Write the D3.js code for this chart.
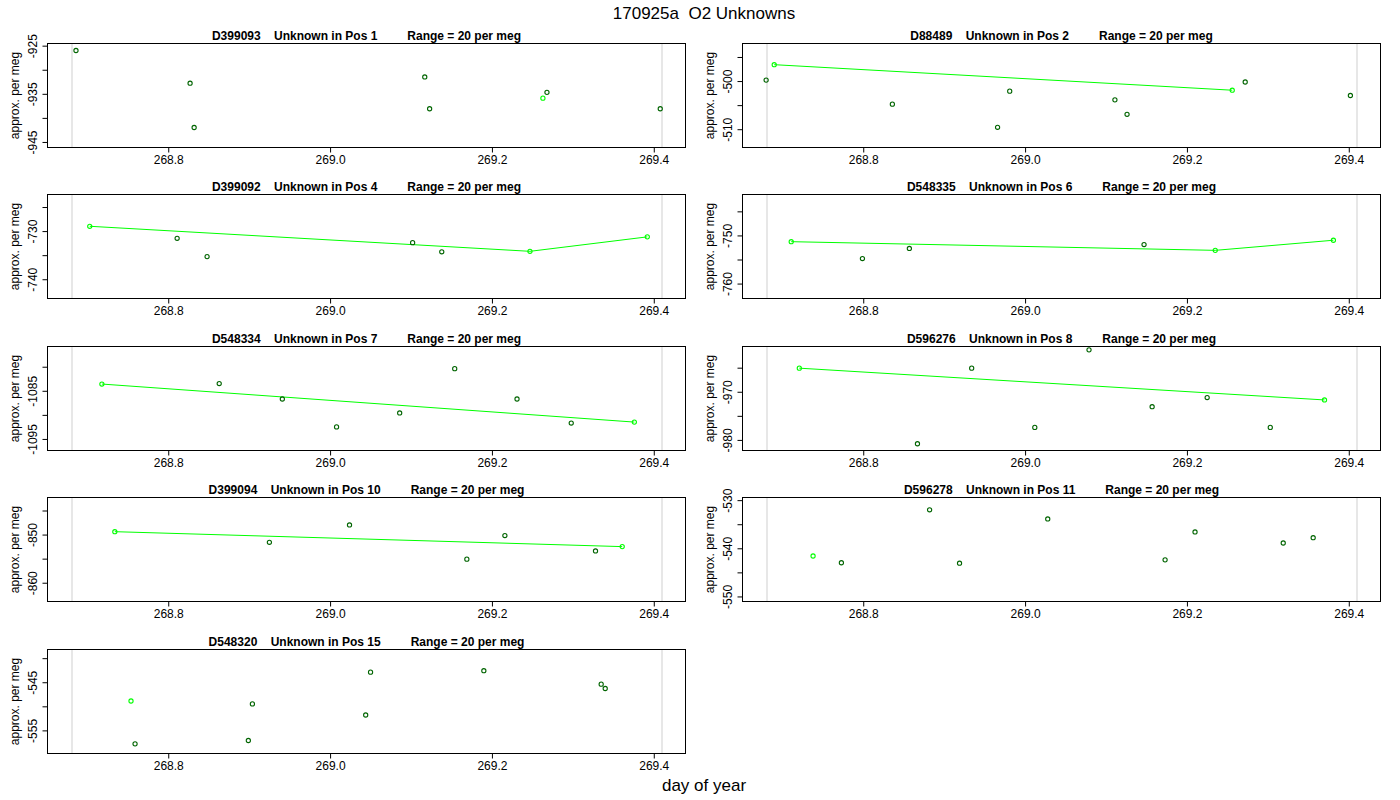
<!DOCTYPE html>
<html>
<head>
<meta charset="utf-8">
<title>170925a O2 Unknowns</title>
<script src="https://cdn.jsdelivr.net/npm/d3@7"></script>
<style>
body { margin: 0; background: #fff; }
text { font-family: "Liberation Sans", Arial, Helvetica, sans-serif; }
</style>
</head>
<body>
<div id="chart"></div>
<script>

// ---- data ----
const sampleIds = ["D399093", "D88489", "D399092", "D548335", "D548334", "D596276", "D399094", "D596278", "D548320"];
const samplePos = [1, 2, 4, 6, 7, 8, 10, 11, 15];
const plotRange = 20;   // per meg, shown in each title
const yMid = [-935.35, -503.0, -733.2, -752.3, -1086.6, -971.4, -853.1, -540.25, -549.0];
const refDays = [268.68, 269.41];   // grey run limits
const xTicks = [268.8, 269.0, 269.2, 269.4];

// day of year for every aliquot
const panelDays = [
    [268.686, 268.827, 268.832, 269.117, 269.123, 269.263, 269.268, 269.408],
    [268.680, 268.690, 268.836, 268.966, 268.981, 269.111, 269.126, 269.256, 269.272, 269.402],
    [268.703, 268.811, 268.848, 269.102, 269.138, 269.247, 269.392],
    [268.711, 268.799, 268.857, 269.147, 269.235, 269.381],
    [268.718, 268.863, 268.941, 269.008, 269.086, 269.154, 269.231, 269.298, 269.376],
    [268.721, 268.867, 268.934, 269.012, 269.079, 269.157, 269.225, 269.303, 269.370],
    [268.734, 268.925, 269.024, 269.169, 269.216, 269.328, 269.361],
    [268.738, 268.773, 268.882, 268.919, 269.028, 269.173, 269.210, 269.319, 269.356],
    [268.754, 268.759, 268.899, 268.904, 269.044, 269.050, 269.190, 269.335, 269.340]
];

// approx. per meg
const panelValues = [
    [-926.0, -932.8, -942.0, -931.5, -938.1, -935.9, -934.7, -938.1],
    [-499.8, -496.6, -504.8, -509.6, -502.1, -503.9, -506.9, -501.9, -500.2, -503.0],
    [-729.0, -731.5, -735.3, -732.4, -734.3, -734.2, -731.2],
    [-751.3, -754.8, -752.7, -751.9, -753.1, -751.0],
    [-1083.6, -1083.5, -1086.7, -1092.5, -1089.6, -1080.4, -1086.7, -1091.7, -1091.5],
    [-965.1, -980.8, -965.1, -977.4, -961.3, -973.1, -971.2, -977.4, -971.7],
    [-849.4, -851.6, -848.0, -855.1, -850.2, -853.4, -852.5],
    [-541.6, -543.0, -532.0, -543.1, -533.9, -542.4, -536.6, -538.9, -537.8],
    [-548.9, -557.8, -557.1, -549.5, -551.8, -542.9, -542.6, -545.4, -546.3]
];

// 1 = first aliquot of a tank (light green, joined by a line)
const panelIsFirst = [
    [0, 0, 0, 0, 0, 1, 0, 0],
    [0, 1, 0, 0, 0, 0, 0, 1, 0, 0],
    [1, 0, 0, 0, 0, 1, 1],
    [1, 0, 0, 0, 1, 1],
    [1, 0, 0, 0, 0, 0, 0, 0, 1],
    [1, 0, 0, 0, 0, 0, 0, 0, 1],
    [1, 0, 0, 0, 0, 0, 1],
    [1, 0, 0, 0, 0, 0, 0, 0, 0],
    [1, 0, 0, 0, 0, 0, 0, 0, 0]
];


const W = 1400, H = 800;

const svg = d3.select("#chart").append("svg")
    .attr("width", W)
    .attr("height", H);


class UnknownPanel {

    constructor(svg, idx) {
        this.svg = svg;
        this.idx = idx;
        this.displayData = [];
    }

    initVis() {
        let vis = this;

        let row = Math.floor(vis.idx / 2),
            col = vis.idx % 2;

        vis.left = col === 0 ? 47.5 : 742.5;
        vis.top = Math.round(42.7 + row * 151.5) + 0.5;
        vis.width = 638;
        vis.height = 104;

        vis.g = vis.svg.append("g")
            .attr("transform", "translate(" + vis.left + "," + vis.top + ")");

        // R style 4% padding on both axes
        let xPad = 0.04 * (refDays[1] - refDays[0]);
        vis.x = d3.scaleLinear()
            .domain([refDays[0] - xPad, refDays[1] + xPad])
            .range([0, vis.width]);

        let half = plotRange / 2 * 1.08;
        vis.y = d3.scaleLinear()
            .domain([yMid[vis.idx] - half, yMid[vis.idx] + half])
            .range([vis.height, 0]);

        // grey limits
        vis.g.selectAll(".ref-line")
            .data(refDays)
            .enter().append("line")
            .attr("class", "ref-line")
            .attr("x1", d => Math.round(vis.x(d)) + 0.5)
            .attr("x2", d => Math.round(vis.x(d)) + 0.5)
            .attr("y1", 0)
            .attr("y2", vis.height)
            .attr("stroke", "#cfcfcf")
            .attr("stroke-width", 1);

        // axes
        vis.xAxis = d3.axisBottom(vis.x)
            .tickValues(xTicks)
            .tickSize(5)
            .tickSizeOuter(0)
            .tickPadding(3)
            .tickFormat(d => d.toFixed(1));

        vis.g.append("g")
            .attr("class", "x-axis")
            .attr("transform", "translate(0," + vis.height + ")")
            .call(vis.xAxis)
            .call(g => g.select(".domain").remove())
            .style("font-size", "12px")
            .selectAll("text").attr("fill", "#000");

        let dom = vis.y.domain();
        let yTicks = d3.range(Math.ceil(dom[0] / 5) * 5, dom[1], 5);

        // plain hyphen minus like the original, every other tick labelled
        vis.yAxis = d3.axisLeft(vis.y)
            .tickValues(yTicks)
            .tickSize(5)
            .tickSizeOuter(0)
            .tickFormat((d, i) => i % 2 === 0 ? String(Math.round(d)) : "");

        let ya = vis.g.append("g")
            .attr("class", "y-axis")
            .call(vis.yAxis)
            .call(g => g.select(".domain").remove())
            .style("font-size", "12px");

        ya.selectAll("text")
            .attr("fill", "#000")
            .attr("transform", "rotate(-90)")
            .attr("x", 0)
            .attr("y", -11)
            .attr("dy", 0)
            .style("text-anchor", "middle");

        ya.selectAll("line").attr("stroke", "#000");
        vis.g.selectAll(".x-axis line").attr("stroke", "#000");

        // box
        vis.g.append("rect")
            .attr("width", vis.width)
            .attr("height", vis.height)
            .attr("fill", "none")
            .attr("stroke", "#000")
            .attr("stroke-width", 1);

        // titles
        vis.g.append("text")
            .attr("x", vis.width / 2)
            .attr("y", -4)
            .attr("text-anchor", "middle")
            .style("font-size", "12px")
            .style("font-weight", "bold")
            .style("white-space", "pre")
            .text(sampleIds[vis.idx] + "    Unknown in Pos " + samplePos[vis.idx] + "         Range = " + plotRange + " per meg");

        vis.g.append("text")
            .attr("transform", "translate(-29," + (vis.height / 2) + ") rotate(-90)")
            .attr("text-anchor", "middle")
            .style("font-size", "12px")
            .text("approx. per meg");

        vis.wrangleData();
    }

    wrangleData() {
        let vis = this;

        vis.displayData = panelDays[vis.idx].map((d, i) => ({
            day: d,
            value: panelValues[vis.idx][i],
            first: panelIsFirst[vis.idx][i] === 1
        }));

        vis.firstData = vis.displayData.filter(d => d.first);

        vis.updateVis();
    }

    updateVis() {
        let vis = this;

        let line = d3.line()
            .x(d => vis.x(d.day))
            .y(d => vis.y(d.value));

        if (vis.firstData.length > 1) {
            vis.g.append("path")
                .datum(vis.firstData)
                .attr("d", line)
                .attr("fill", "none")
                .attr("stroke", "#00ff00")
                .attr("stroke-width", 1);
        }

        vis.g.selectAll(".pt")
            .data(vis.displayData)
            .enter().append("circle")
            .attr("class", "pt")
            .attr("cx", d => vis.x(d.day))
            .attr("cy", d => vis.y(d.value))
            .attr("r", 2.1)
            .attr("fill", "none")
            .attr("stroke", d => d.first ? "#00ff00" : "#006400")
            .attr("stroke-width", 1.1);
    }
}


sampleIds.forEach((id, i) => {
    let p = new UnknownPanel(svg, i);
    p.initVis();
});

// outer texts
svg.append("text")
    .attr("x", 704)
    .attr("y", 19)
    .attr("text-anchor", "middle")
    .style("font-size", "17px")
    .style("white-space", "pre")
    .text("170925a  O2 Unknowns");

svg.append("text")
    .attr("x", 704)
    .attr("y", 791)
    .attr("text-anchor", "middle")
    .style("font-size", "17px")
    .text("day of year");

</script>
</body>
</html>
